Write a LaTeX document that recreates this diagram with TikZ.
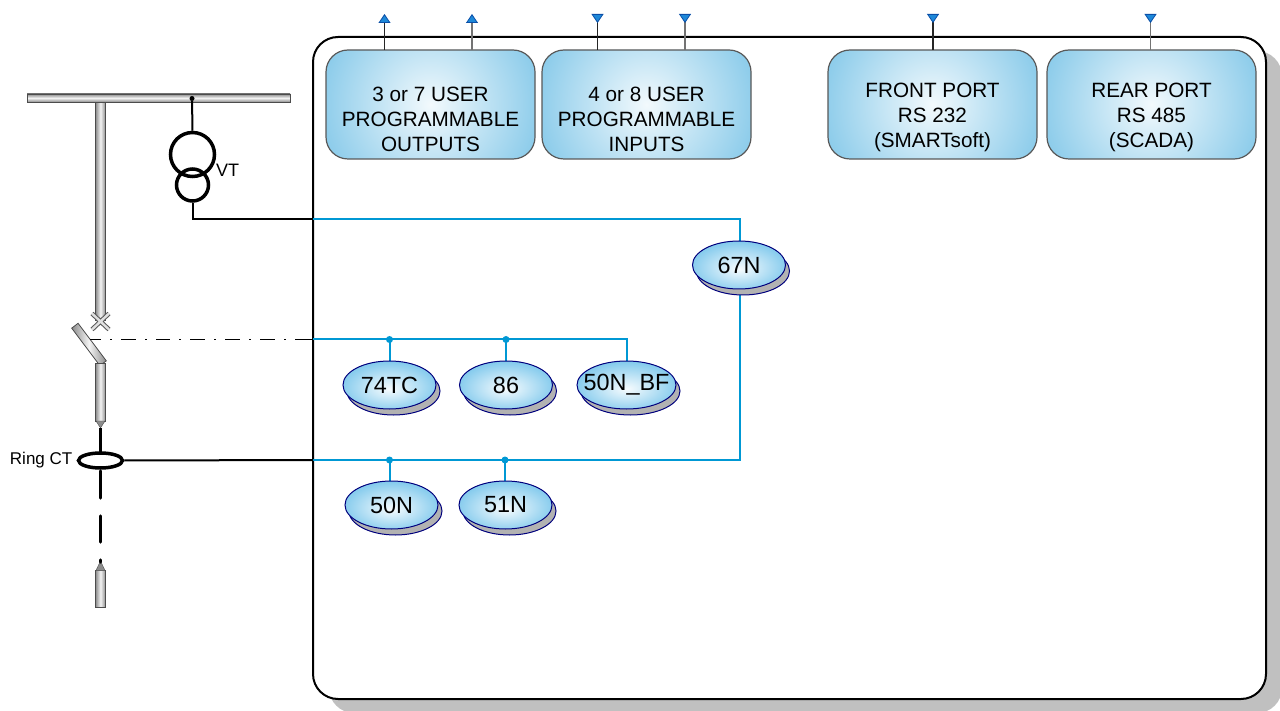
\documentclass[tikz,border=0pt]{standalone}
\usepackage{xcolor}
\usepackage{fontspec}
\setmainfont{Liberation Sans}
\usepackage{tikz}
\usetikzlibrary{arrows.meta, shapes.geometric, shadows}
\definecolor{wireblue}{HTML}{0098D4}
\definecolor{tipblue}{HTML}{1E88D8}
\definecolor{tipedge}{HTML}{0A4FA8}
\definecolor{blockblue}{HTML}{7FC6E8}
\definecolor{relayblue}{HTML}{62BCE8}
\definecolor{shadowgrey}{HTML}{C0C0C0}
\definecolor{steel}{HTML}{8C8C8C}
\pgfdeclareradialshading{blockglow}{\pgfpoint{0bp}{0bp}}{color(0bp)=(white!90!blockblue); color(25bp)=(blockblue); color(50bp)=(blockblue)}
\pgfdeclareradialshading{relayglow}{\pgfpoint{0bp}{-4bp}}{color(0bp)=(white!95!relayblue); color(34bp)=(relayblue); color(50bp)=(relayblue)}
\tikzset{
  panel/.style={draw=black, line width=2pt, fill=white, rounded corners=25pt, minimum width=953pt, minimum height=662pt, inner sep=0pt, outer sep=0pt,
    general shadow={shadow xshift=16pt, shadow yshift=-14pt, fill=shadowgrey}},
  ioblock/.style={draw=black!65, line width=1.2pt, rounded corners=22pt, minimum width=209pt, minimum height=109pt, inner sep=0pt, outer sep=0pt,
    path picture={\shade[shading=blockglow] (path picture bounding box.center) circle (125pt);}},
  blocktext/.style={align=center, font=\fontsize{20.7}{25}\selectfont, inner sep=0pt},
  relay/.style={ellipse, draw=black!30!blue!70!black, line width=1pt, minimum width=93pt, minimum height=48pt, inner sep=0pt, outer sep=0pt,
    shading=relayglow, font=\fontsize{23.4}{26}\selectfont,
    general shadow={shadow xshift=4pt, shadow yshift=-6pt, fill=black!30, draw=black!30!blue!70!black}},
  metalbar/.style={draw=black!70, line width=.8pt, left color=steel, right color=steel, middle color=white!90!steel, inner sep=0pt, outer sep=0pt},
  metalbus/.style={draw=black!70, line width=.8pt, top color=steel, bottom color=steel, middle color=white!90!steel, inner sep=0pt, outer sep=0pt},
  wire/.style={draw=wireblue, line width=2pt},
  blackwire/.style={draw=black, line width=2pt},
  portline/.style={draw=black!85, line width=1.5pt},
  portlinegrey/.style={draw=black!55, line width=1.5pt},
  outtip/.style={-{Triangle[length=9pt, width=12pt, fill=tipblue, color=tipedge, line width=.8pt]}},
  intip/.style={-{Triangle[reversed, length=9pt, width=12pt, fill=tipblue, color=tipedge, line width=.8pt]}},
  solder/.style={circle, fill=wireblue, minimum size=7pt, inner sep=0pt},
  smalltext/.style={inner sep=0pt, font=\fontsize{17}{18}\selectfont},
}

\begin{document}
\begin{tikzpicture}[x=1pt, y=-1pt]
\clip (0,0) rectangle (1280,711);

% relay case
\node[panel] (case) at (789.5,368) {};

% port blocks
\node[ioblock] (outputs) at (430.5,104.5) {};
\node[ioblock] (inputs) at (646.5,104.5) {};
\node[ioblock] (front) at (932.5,104.5) {};
\node[ioblock] (rear) at (1151.5,104.5) {};
\node[blocktext] (outputstext) at (430.5,119) {3 or 7 USER\\PROGRAMMABLE\\OUTPUTS};
\node[blocktext] (inputstext) at (646.5,119) {4 or 8 USER\\PROGRAMMABLE\\INPUTS};
\node[blocktext] (fronttext) at (932.5,117) {FRONT PORT\\RS 232\\(SMARTsoft)};
\node[blocktext] (reartext) at (1151.5,117) {REAR PORT\\RS 485\\(SCADA)};

% port arrows
\coordinate (outa) at (384.5,14);
\coordinate (outb) at (472,14);
\coordinate (ina) at (597.5,14);
\coordinate (inb) at (685,14);
\coordinate (frontpin) at (933,14);
\coordinate (rearpin) at (1150.5,14);
\draw[portline, outtip] (outputs.north -| outa) -- (outa);
\draw[portlinegrey, outtip] (outputs.north -| outb) -- (outb);
\draw[portline, intip] (inputs.north -| ina) -- (ina);
\draw[portlinegrey, intip] (inputs.north -| inb) -- (inb);
\draw[portline, intip] (front.north -| frontpin) -- (frontpin);
\draw[portlinegrey, intip] (rear.north -| rearpin) -- (rearpin);

% internal wiring
\coordinate (vtin) at (313,219);
\coordinate (tripin) at (313,339.5);
\coordinate (ctin) at (313,460);
\coordinate (dota) at (389.5,339.5);
\coordinate (dotb) at (506,339.5);
\coordinate (dotc) at (389.5,460);
\coordinate (dotd) at (505,460);
\coordinate (tripend) at (626.5,339.5);
\coordinate (ctend) at (740,460);
\coordinate (vtend) at (740,219);
\draw[wire] (vtin) -- (vtend) -- (740,241);
\draw[wire] (tripin) -- (tripend) -- (626.5,361);
\draw[wire] (ctin) -- (ctend) -- (740,288);
\draw[wire] (dota) -- (389.5,361);
\draw[wire] (dotb) -- (506,361);
\draw[wire] (dotc) -- (389.5,481);
\draw[wire] (dotd) -- (505,481);
\node[solder] (jointa) at (dota) {};
\node[solder] (jointb) at (dotb) {};
\node[solder] (jointc) at (dotc) {};
\node[solder] (jointd) at (dotd) {};

% protection functions
\node[relay] (r67n) at (739,265) {67N};
\node[relay] (r74tc) at (389.5,385) {74TC};
\node[relay] (r86) at (506,385) {86};
\node[relay, minimum width=99pt] (r50nbf) at (626.5,385) {\makebox[0pt]{50N\_BF}};
\node[relay] (r50n) at (391.5,505) {50N};
\node[relay] (r51n) at (505.5,505) {51N};

% busbar and feeder
\node[metalbar, minimum width=10pt, minimum height=218pt] (feedertop) at (100.5,211) {};
\node[metalbus, minimum width=263pt, minimum height=8pt] (bus) at (158.5,98) {};
\draw[black!65, line width=4.5pt] (92,313.5) -- (109,329.5) (109,313.5) -- (92,329.5);
\draw[black!12, line width=2.4pt] (92,313.5) -- (109,329.5) (109,313.5) -- (92,329.5);
\node[metalbar, rotate=36.9, minimum width=8pt, minimum height=47pt] (blade) at (89,344.5) {};
\node[metalbar, minimum width=10pt, minimum height=58pt] (feedermid) at (100.5,392) {};
\draw[draw=black!70, fill=steel] (96,421) -- (105,421) -- (100.5,428) -- cycle;
\node[metalbar, minimum width=10pt, minimum height=37pt] (feederend) at (100.5,589) {};
\draw[draw=black!70, fill=steel] (96,570.5) -- (105,570.5) -- (100.5,561) -- cycle;
\draw[black, line width=3.5pt] (100.5,428) -- (100.5,452);
\draw[black, line width=3.5pt, line cap=round] (100.5,471) -- (100.5,498);
\draw[black, line width=3.5pt, line cap=round] (100.5,516) -- (100.5,542);
\draw[black, line width=3.5pt, line cap=round] (100.5,560) -- (100.5,562);

% breaker trip link
\draw[black, line width=1.6pt, dash pattern=on 11pt off 9pt on 2pt off 9pt on 15pt off 9pt on 2pt off 9pt on 14pt off 9pt on 2pt off 9pt on 15pt off 9pt on 2pt off 9pt on 15pt off 9pt on 2pt off 9pt on 15pt off 9pt on 2pt off 9pt on 20pt off 0pt] (90,339.5) -- (tripin);

% voltage transformer
\node[circle, draw=black, line width=3.5pt, minimum size=44pt, inner sep=0pt, outer sep=1.75pt] (vtlarge) at (192.5,154.5) {};
\node[circle, draw=black, line width=3.5pt, minimum size=32pt, inner sep=0pt, outer sep=1.75pt] (vtsmall) at (192.5,185) {};
\node[circle, fill=black, minimum size=5pt, inner sep=0pt] (vttap) at (192,98.5) {};
\draw[blackwire] (vttap) -- (vtlarge.north);
\draw[blackwire] (vtsmall.south) |- (vtin);
\node[smalltext, font=\fontsize{18}{20}\selectfont, anchor=west] (vtlabel) at (216,170.5) {VT};

% ring current transformer
\node[ellipse, draw=black, line width=3.5pt, minimum width=44pt, minimum height=15pt, inner sep=0pt, outer sep=1.75pt] (ringct) at (100.5,460.5) {};
\draw[blackwire] (ringct.east) -- (ctin);
\node[smalltext, anchor=east] (ringlabel) at (72.5,460) {Ring CT};
\end{tikzpicture}
\end{document}
